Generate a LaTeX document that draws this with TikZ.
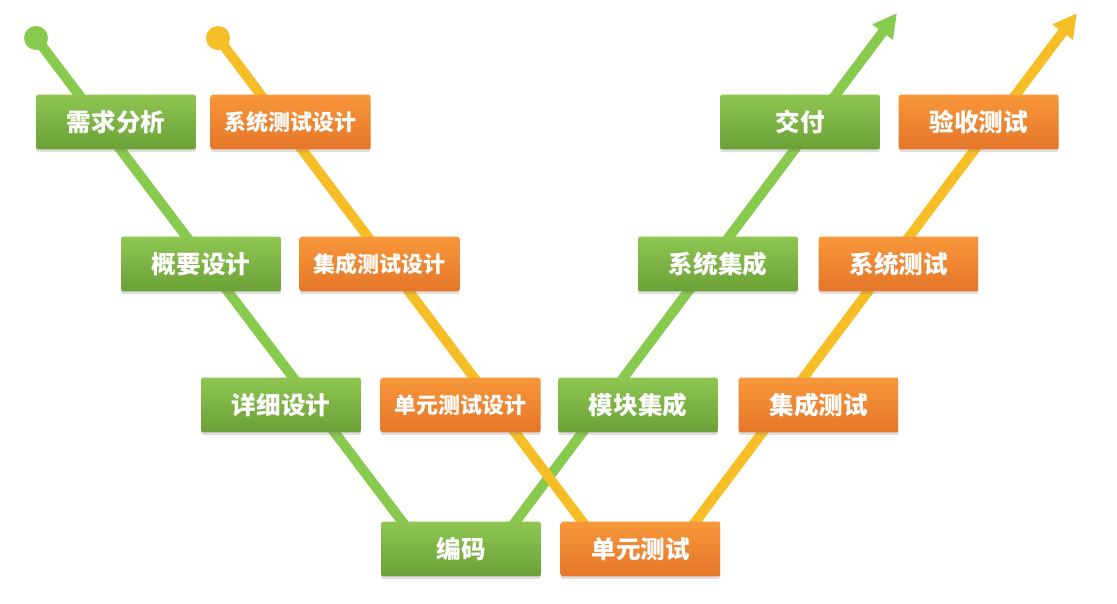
\documentclass[tikz,border=0pt]{standalone}
\usepackage{fontspec}
\newfontfamily\cjk{Noto Sans CJK SC}
\usetikzlibrary{positioning, arrows.meta, shadows}
\definecolor{vgreen}{HTML}{88CA4E}
\definecolor{vyellow}{HTML}{F5BE26}
\definecolor{gtop}{HTML}{8FC652}
\definecolor{gbot}{HTML}{6BA037}
\definecolor{otop}{HTML}{F8973A}
\definecolor{obot}{HTML}{E5762A}

\begin{document}
\begin{tikzpicture}[x=0.02cm, y=-0.02cm,
    gb/.style={rounded corners=1.5pt, top color=gtop, bottom color=gbot, text=white,
      font=\cjk\bfseries\fontsize{14}{16}\selectfont, minimum width=3.2cm, minimum height=1.1cm,
      inner sep=0pt, drop shadow={opacity=0.25, shadow xshift=0pt, shadow yshift=-1.5pt}},
    ob/.style={gb, top color=otop, bottom color=obot},
    long/.style={font=\cjk\bfseries\fontsize{12.5}{14}\selectfont},
    vline/.style={line width=0.2cm, line join=round, -{Triangle[length=0.48cm, width=0.48cm]}},
    dot/.style={circle, inner sep=0pt, minimum size=0.48cm}]
  \useasboundingbox (0,0) rectangle (1117,604);
  \node[dot, fill=vgreen] (gdot) at (36,38) {};
  \node[dot, fill=vyellow] (odot) at (218,38) {};
  \coordinate (gl) at (435,565);
  \coordinate (gr) at (483,565);
  \coordinate (gtip) at (897,13);
  \coordinate (ol) at (615,565);
  \coordinate (or) at (663,565);
  \coordinate (otip) at (1077,13);
  \draw[vline, vgreen] (gdot.center) -- (gl) -- (gr) -- (gtip);
  \draw[vline, vyellow] (odot.center) -- (ol) -- (or) -- (otip);

  \node[gb] (req) at (116,122) {需求分析};
  \node[ob, long, right=0.28cm of req] (std) {系统测试设计};
  \node[gb] (hl) at (201,264) {概要设计};
  \node[ob, long, right=0.36cm of hl] (itd) {集成测试设计};
  \node[gb] (dd) at (281,405) {详细设计};
  \node[ob, long, right=0.38cm of dd] (utd) {单元测试设计};
  \node[gb] (code) at (461,549) {编码};
  \node[ob, right=0.38cm of code] (ut) {单元测试};
  \node[gb] (mi) at (638,405) {模块集成};
  \node[ob, right=0.4cm of mi] (it) {集成测试};
  \node[gb] (si) at (718,264) {系统集成};
  \node[ob, right=0.4cm of si] (st) {系统测试};
  \node[gb] (del) at (800,122) {交付};
  \node[ob, right=0.36cm of del] (acc) {验收测试};
\end{tikzpicture}
\end{document}
